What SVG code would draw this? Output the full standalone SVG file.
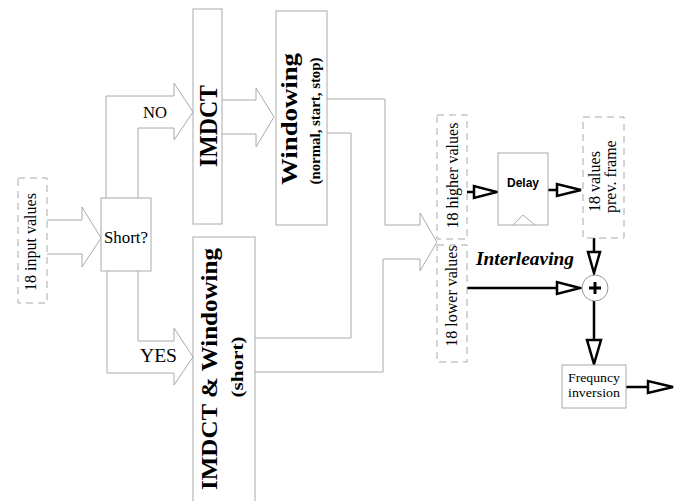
<svg xmlns="http://www.w3.org/2000/svg" width="688" height="501" viewBox="0 0 688 501">
<style>
.box{fill:#fff;stroke:#aaa;stroke-width:1}
.dash{fill:#fff;stroke:#aaa;stroke-width:1;stroke-dasharray:7,5}
.gl{fill:none;stroke:#aaa;stroke-width:1}
.tl{fill:none;stroke:#000;stroke-width:2.5}
.th{fill:#fff;stroke:#000;stroke-width:2.5;stroke-linejoin:miter}
.s{font-family:"Liberation Serif","Times New Roman",serif;fill:#000}
.b{font-weight:bold}
</style>
<rect width="688" height="501" fill="#fff"/>
<g id="connectors">
<polyline class="gl" points="47,220 82,220 82,207 101,238 82,267 82,254 47,254"/>
<polyline class="gl" points="106,198 106,96 174,96 174,83 193,112 174,140 174,128 138,128 138,198"/>
<polyline class="gl" points="138,271 138,341 174,341 174,328 193,357 174,385 174,373 107,373 107,271"/>
<polyline class="gl" points="222,100 256,100 256,88 274,117 256,147 256,134 222,134"/>
<polyline class="gl" points="327,99 385,99 385,225 420,225 420,213 437,242 420,271 420,259 383,259 383,372 255,372"/>
<polyline class="gl" points="327,133 351,133 351,338 255,338"/>
<line class="tl" x1="467" y1="192" x2="474" y2="192"/>
<polygon class="th" points="474,186 474,198 497,192"/>
<line class="tl" x1="548" y1="190" x2="557" y2="190"/>
<polygon class="th" points="557,184 557,196 581,190"/>
<line class="tl" x1="594" y1="238" x2="594" y2="252"/>
<polygon class="th" points="588,252 600,252 594,273"/>
<line class="tl" x1="467" y1="288" x2="557" y2="288"/>
<polygon class="th" points="557,282 557,294 580,288"/>
<line class="tl" x1="594" y1="301" x2="594" y2="340"/>
<polygon class="th" points="587,340 601,340 594,364"/>
<line class="tl" x1="626" y1="387" x2="648" y2="387"/>
<polygon class="th" points="648,381 648,393 673,387"/>
<text class="s" x="155" y="118" font-size="17" text-anchor="middle" textLength="24" lengthAdjust="spacingAndGlyphs">NO</text>
<text class="s" x="158.5" y="362" font-size="18" text-anchor="middle" textLength="37" lengthAdjust="spacingAndGlyphs">YES</text>
<text class="s b" x="476" y="265" font-size="18" font-style="italic" textLength="98" lengthAdjust="spacingAndGlyphs">Interleaving</text>
</g>
<g id="input">
<rect class="dash" x="18" y="178" width="29" height="125"/>
<text class="s" x="36" y="242" font-size="16" text-anchor="middle" transform="rotate(-90 36 242)">18 input values</text>
</g>
<g id="short">
<rect class="box" x="101" y="198" width="50" height="73"/>
<text class="s" x="126" y="243" font-size="17" text-anchor="middle" textLength="44" lengthAdjust="spacingAndGlyphs">Short?</text>
</g>
<g id="imdct">
<rect class="box" x="193" y="9" width="29" height="215"/>
<text class="s b" x="217" y="126" font-size="25" text-anchor="middle" transform="rotate(-90 217 126)" textLength="82" lengthAdjust="spacingAndGlyphs">IMDCT</text>
</g>
<g id="windowing">
<rect class="box" x="276" y="11" width="51" height="214"/>
<text class="s b" x="297" y="119" font-size="24" text-anchor="middle" transform="rotate(-90 297 119)" textLength="132" lengthAdjust="spacingAndGlyphs">Windowing</text>
<text class="s b" x="320" y="121" font-size="14" text-anchor="middle" transform="rotate(-90 320 121)" textLength="127" lengthAdjust="spacingAndGlyphs">(normal, start, stop)</text>
</g>
<g id="imdct-windowing-short">
<rect class="box" x="193" y="237" width="62" height="270"/>
<text class="s b" x="217" y="369" font-size="24" text-anchor="middle" transform="rotate(-90 217 369)" textLength="242" lengthAdjust="spacingAndGlyphs">IMDCT &amp; Windowing</text>
<text class="s b" x="243" y="367" font-size="17" text-anchor="middle" transform="rotate(-90 243 367)" textLength="61" lengthAdjust="spacingAndGlyphs">(short)</text>
</g>
<g id="higher">
<rect class="dash" x="437" y="115" width="30" height="124"/>
<text class="s" x="458" y="175.5" font-size="16" text-anchor="middle" transform="rotate(-90 458 175.5)">18 higher values</text>
</g>
<g id="lower">
<rect class="dash" x="437" y="245" width="30" height="117"/>
<text class="s" x="457" y="296" font-size="16" text-anchor="middle" transform="rotate(-90 457 296)">18 lower values</text>
</g>
<g id="delay">
<rect class="box" x="498" y="153" width="50" height="72"/>
<polyline class="gl" points="513,225 523,215 535,225"/>
<text x="523" y="187" font-family="'Liberation Sans',Arial,sans-serif" font-weight="bold" font-size="12" text-anchor="middle">Delay</text>
</g>
<g id="prev">
<rect class="dash" x="583" y="117" width="41" height="121"/>
<text class="s" x="600" y="212" font-size="16" transform="rotate(-90 600 212)">18 values</text>
<text class="s" x="616" y="213" font-size="16" transform="rotate(-90 616 213)">prev. frame</text>
</g>
<g id="sum">
<circle cx="595" cy="288" r="13" fill="#fff" stroke="#999" stroke-width="1"/>
<line x1="589" y1="288" x2="601" y2="288" stroke="#000" stroke-width="3"/>
<line x1="595" y1="282" x2="595" y2="294" stroke="#000" stroke-width="3"/>
</g>
<g id="freq">
<rect class="box" x="562" y="365" width="64" height="43"/>
<text class="s" x="594" y="382" font-size="12" text-anchor="middle" textLength="52" lengthAdjust="spacingAndGlyphs">Frequncy</text>
<text class="s" x="594" y="397" font-size="12" text-anchor="middle" textLength="52" lengthAdjust="spacingAndGlyphs">inversion</text>
</g>
</svg>
